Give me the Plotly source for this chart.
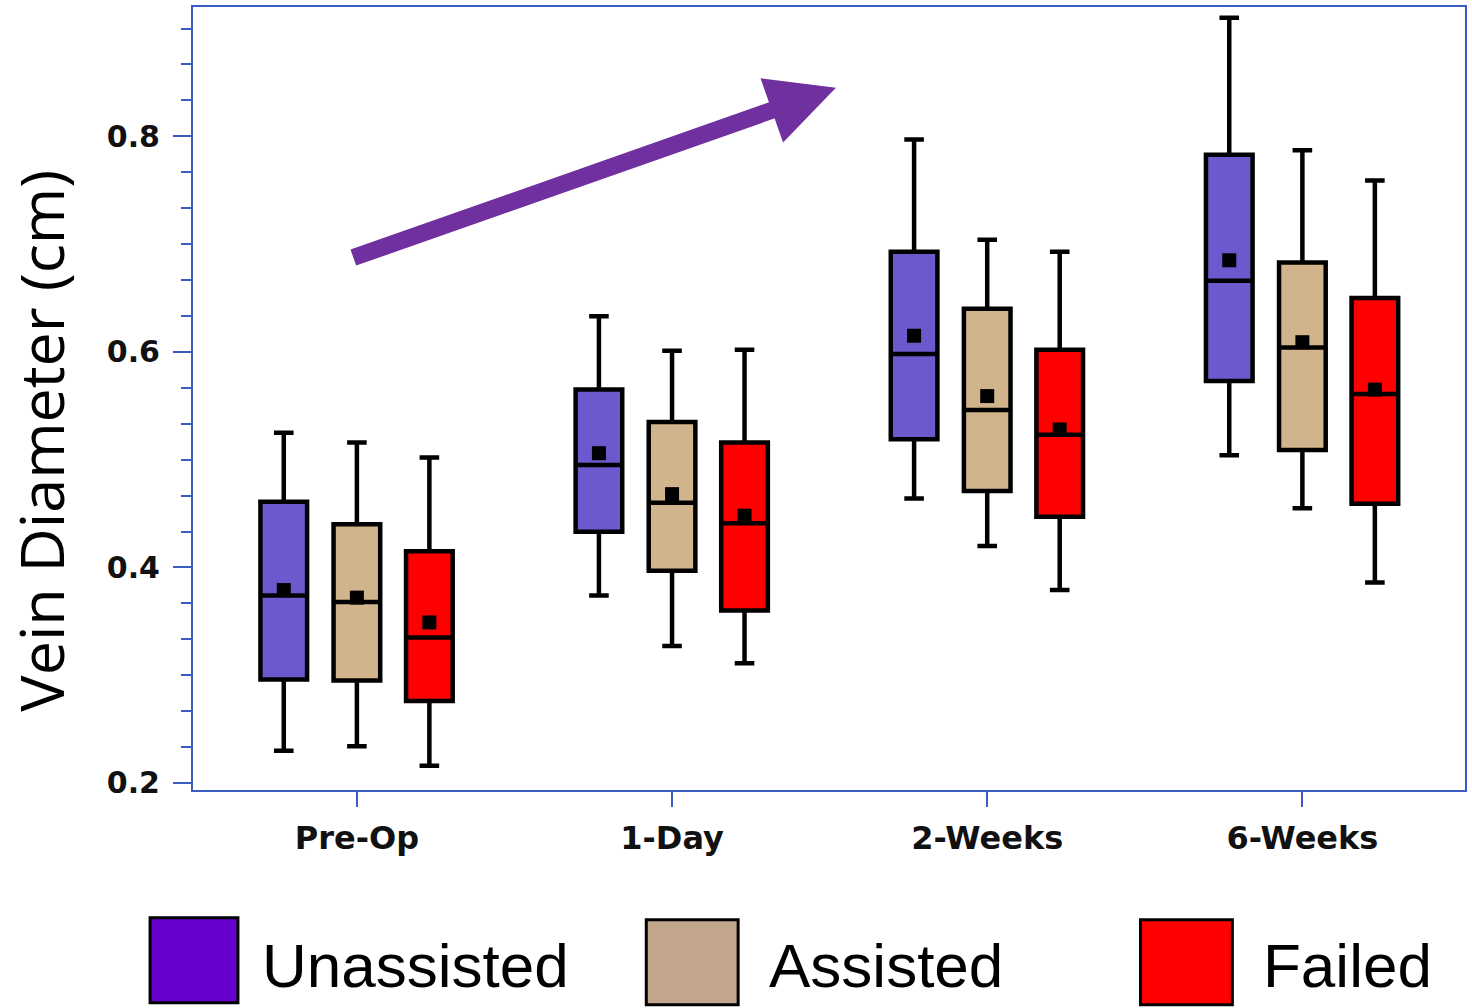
import plotly.graph_objects as go

# ---------------- data ----------------
categories = ["Pre-Op", "1-Day", "2-Weeks", "6-Weeks"]
groups = ["Unassisted", "Assisted", "Failed"]

unassisted_low = [0.230, 0.374, 0.464, 0.504]
unassisted_q1 = [0.296, 0.433, 0.519, 0.573]
unassisted_med = [0.374, 0.495, 0.598, 0.666]
unassisted_q3 = [0.461, 0.565, 0.693, 0.783]
unassisted_high = [0.525, 0.633, 0.797, 0.910]
unassisted_mean = [0.379, 0.506, 0.615, 0.685]

assisted_low = [0.234, 0.327, 0.420, 0.455]
assisted_q1 = [0.295, 0.397, 0.471, 0.509]
assisted_med = [0.368, 0.460, 0.546, 0.604]
assisted_q3 = [0.440, 0.535, 0.640, 0.683]
assisted_high = [0.516, 0.601, 0.704, 0.787]
assisted_mean = [0.372, 0.468, 0.559, 0.609]

failed_low = [0.216, 0.311, 0.379, 0.386]
failed_q1 = [0.276, 0.360, 0.447, 0.459]
failed_med = [0.335, 0.441, 0.523, 0.561]
failed_q3 = [0.415, 0.516, 0.602, 0.650]
failed_high = [0.502, 0.602, 0.693, 0.759]
failed_mean = [0.349, 0.448, 0.528, 0.565]

y_ticks = [0.2, 0.4, 0.6, 0.8]

# ---------------- styles ----------------
box_fill = {"Unassisted": "#6A5ACD", "Assisted": "#D2B48C", "Failed": "#FF0000"}
legend_fill = {"Unassisted": "#6600CC", "Assisted": "#C1A68B", "Failed": "#FF0000"}
offsets = {"Unassisted": -0.232, "Assisted": 0.0, "Failed": 0.23}
AXIS_BLUE = "#3A5CC4"

stats = {
    "Unassisted": (unassisted_low, unassisted_q1, unassisted_med, unassisted_q3, unassisted_high, unassisted_mean),
    "Assisted": (assisted_low, assisted_q1, assisted_med, assisted_q3, assisted_high, assisted_mean),
    "Failed": (failed_low, failed_q1, failed_med, failed_q3, failed_high, failed_mean),
}

W, H = 1472, 1008
L, R, T, B = 193, 1467, 6, 790  # plot area in pixels


def px_x(p):
    return (p - L) / (R - L)


def px_y(p):
    return (B - p) / (B - T)


fig = go.Figure()

for g in groups:
    lo, q1, med, q3, hi, mn = stats[g]
    xs = [i + offsets[g] for i in range(len(categories))]
    fig.add_trace(go.Box(
        x=xs, q1=q1, median=med, q3=q3, lowerfence=lo, upperfence=hi,
        width=0.148, whiskerwidth=0.42,
        fillcolor=box_fill[g], line=dict(color="black", width=4.5),
        boxpoints=False, name=g, showlegend=False, hoverinfo="skip",
    ))
    fig.add_trace(go.Scatter(
        x=xs, y=mn, mode="markers",
        marker=dict(symbol="square", size=14, color="black"),
        showlegend=False, hoverinfo="skip",
    ))

# trend arrow
fig.add_annotation(
    x=1.52, y=0.845, ax=-0.016, ay=0.687,
    xref="x", yref="y", axref="x", ayref="y",
    text="", showarrow=True, arrowhead=2, arrowsize=0.8,
    arrowwidth=17, arrowcolor="#7030A0", standoff=0,
)

# y-axis title
fig.add_annotation(
    x=px_x(40), y=px_y(440), xref="paper", yref="paper",
    text="Vein Diameter (cm)", textangle=-90, showarrow=False,
    xanchor="center", yanchor="middle",
    font=dict(family="Open Sans", size=61, color="black"),
)

# custom legend
leg_boxes = {"Unassisted": (150, 238, 918, 1003), "Assisted": (647, 739, 920, 1005),
             "Failed": (1142, 1234, 920, 1005)}
leg_text_x = {"Unassisted": 260, "Assisted": 768, "Failed": 1263}
for g in groups:
    x0, x1, y0, y1 = leg_boxes[g]
    fig.add_shape(type="rect", xref="paper", yref="paper",
                  x0=px_x(x0), x1=px_x(x1), y0=px_y(y1), y1=px_y(y0),
                  fillcolor=legend_fill[g], line=dict(color="black", width=3))
    fig.add_annotation(x=px_x(leg_text_x[g]), y=px_y(966), xref="paper", yref="paper",
                       text=g, showarrow=False, xanchor="left", yanchor="middle",
                       font=dict(family="Liberation Sans", size=62, color="black"))

fig.update_layout(
    width=W, height=H,
    margin=dict(l=L, r=W - R, t=T, b=H - B, pad=0),
    plot_bgcolor="white", paper_bgcolor="white",
    boxmode="overlay", showlegend=False,
)
fig.update_xaxes(
    range=[-0.52, 3.516], tickmode="array",
    tickvals=list(range(len(categories))), ticktext=categories,
    ticks="outside", ticklen=15, tickwidth=2, tickcolor=AXIS_BLUE,
    showline=True, linecolor=AXIS_BLUE, linewidth=2, mirror=True,
    showgrid=False, zeroline=False, ticklabelstandoff=4,
    tickfont=dict(family="DejaVu Sans", size=32, color="#111", weight="bold"),
)
fig.update_yaxes(
    range=[0.1935, 0.920], tickmode="array", tickvals=y_ticks,
    ticktext=[f"{v:.1f}" for v in y_ticks],
    ticks="outside", ticklen=18, tickwidth=2, tickcolor=AXIS_BLUE,
    minor=dict(dtick=0.2 / 6, tick0=0.2, ticks="outside", ticklen=10, tickwidth=2, tickcolor=AXIS_BLUE, showgrid=False),
    showline=True, linecolor=AXIS_BLUE, linewidth=2, mirror=True,
    showgrid=False, zeroline=False, ticklabelstandoff=7,
    tickfont=dict(family="DejaVu Sans", size=30, color="#111", weight="bold"),
)

fig.write_html("out.html")
